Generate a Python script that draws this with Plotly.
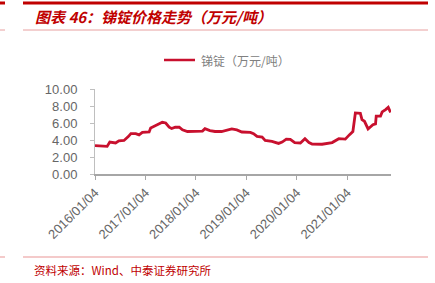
import plotly.graph_objects as go

dates = ["2016-01-04","2016-02-25","2016-04-01","2016-04-20","2016-06-01","2016-06-25","2016-08-01",
         "2016-09-01","2016-09-20","2016-10-25","2016-11-18","2016-12-12","2017-01-30","2017-02-10",
         "2017-03-18","2017-04-12","2017-05-05","2017-05-30","2017-06-24","2017-07-12","2017-08-07",
         "2017-09-05","2017-09-28","2017-11-03","2018-01-04","2018-02-20","2018-03-10","2018-04-15",
         "2018-05-22","2018-07-08","2018-09-20","2018-10-27","2018-12-02","2019-02-02","2019-02-25",
         "2019-03-22","2019-04-28","2019-05-20","2019-07-08","2019-08-25","2019-09-20","2019-10-20",
         "2019-11-18","2019-12-20","2020-01-30","2020-03-03","2020-04-01","2020-04-24","2020-07-05",
         "2020-09-16","2020-11-03","2020-12-20","2021-01-20","2021-02-13","2021-03-03","2021-04-08",
         "2021-04-20","2021-05-08","2021-06-03","2021-06-20","2021-07-08","2021-07-27","2021-08-01",
         "2021-09-01","2021-09-13","2021-10-08","2021-10-27","2021-11-13"]
values = [3.33,3.30,3.25,3.76,3.65,3.90,3.95,
          4.40,4.75,4.75,4.60,4.90,4.95,5.40,
          5.70,5.90,6.08,6.00,5.50,5.35,5.50,
          5.50,5.20,5.00,5.00,5.05,5.33,5.10,
          5.00,5.00,5.30,5.18,4.94,4.90,4.75,
          4.43,4.35,3.96,3.84,3.60,3.76,4.10,
          4.08,3.70,3.65,4.15,3.70,3.53,3.50,
          3.70,4.15,4.10,4.63,5.00,7.18,7.14,
          6.40,6.20,5.30,5.60,5.80,5.90,6.80,
          6.80,7.30,7.57,7.84,7.25]
tick_vals = ["2016-01-04","2017-01-04","2018-01-04","2019-01-04","2020-01-04","2021-01-04"]
tick_text = ["2016/01/04","2017/01/04","2018/01/04","2019/01/04","2020/01/04","2021/01/04"]
y_ticks = [0, 2, 4, 6, 8, 10]

LINE = "#C8102E"
RED = "#C00000"
GREY = "#666666"
CJK = "Noto Sans CJK SC"

fig = go.Figure()
fig.add_trace(go.Scatter(x=dates, y=values, mode="lines",
                         line=dict(color=LINE, width=2.8), showlegend=False))

L, R, T, B = 95, 391, 89, 174
W, H = R - L, B - T
def px(x): return (x - L) / W
def py(y): return (B - y) / H

shapes = []
def hline(x0, x1, y, color, width):
    shapes.append(dict(type="line", xref="paper", yref="paper", x0=px(x0), x1=px(x1),
                       y0=py(y), y1=py(y), line=dict(color=color, width=width)))
hline(23, 428, 3, "#C00000", 3)
hline(0, 5, 3, "#C00000", 3)
hline(23, 428, 30, "#E8A0A0", 1)
hline(0, 5, 30, "#E8A0A0", 1)
hline(23, 428, 257, "#F0B8B8", 1.5)
hline(0, 5, 257, "#F0B8B8", 1.5)
hline(164, 195, 60, LINE, 2.5)

annotations = [
    dict(text="<b><i>图表 46：锑锭价格走势（万元/吨）</i></b>", xref="paper", yref="paper",
         x=px(33), y=py(16), xanchor="left", yanchor="middle", showarrow=False,
         font=dict(family=CJK, size=15, color=RED)),
    dict(text="锑锭（万元/吨）", xref="paper", yref="paper",
         x=px(199), y=py(60), xanchor="left", yanchor="middle", showarrow=False,
         font=dict(family=CJK, size=12, color="#808080")),
    dict(text="资料来源：Wind、中泰证券研究所", xref="paper", yref="paper",
         x=px(32), y=py(270), xanchor="left", yanchor="middle", showarrow=False,
         font=dict(family=CJK, size=11.5, color=RED)),
]

fig.update_layout(
    width=435, height=283,
    margin=dict(l=L, r=435 - R, t=T, b=283 - B),
    paper_bgcolor="white", plot_bgcolor="white",
    shapes=shapes, annotations=annotations,
    xaxis=dict(range=["2016-01-04", "2021-11-16"], tickmode="array",
               tickvals=tick_vals, ticktext=tick_text, tickangle=-45,
               showgrid=False, zeroline=False, showline=True, linecolor="#A6A6A6", linewidth=2,
               ticks="outside", ticklen=4, tickcolor="#A6A6A6",
               tickfont=dict(family="Liberation Sans", size=13, color=GREY)),
    yaxis=dict(range=[0, 10], tickmode="array", tickvals=y_ticks,
               ticktext=[f"{v:.2f}" for v in y_ticks],
               showgrid=False, zeroline=False, showline=True, linecolor="#BFBFBF", linewidth=1,
               ticks="outside", ticklen=4, tickcolor="#BFBFBF", ticklabelstandoff=10,
               tickfont=dict(family="Liberation Sans", size=13, color=GREY)),
)
fig.write_html("out.html")
